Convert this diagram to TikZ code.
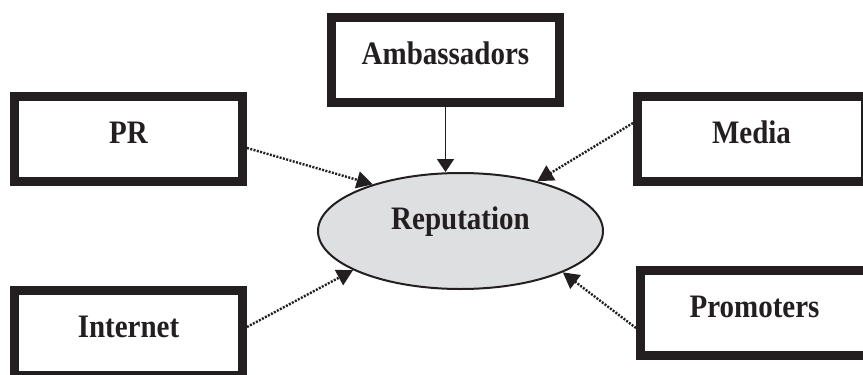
\documentclass[tikz,border=0pt]{standalone}
\usepackage{fontspec}
\setmainfont{Liberation Serif}
\usetikzlibrary{shapes.geometric,arrows.meta}
\definecolor{ink}{RGB}{35,31,32}
\definecolor{repfill}{RGB}{222,223,225}
\newcommand\tallbf[1]{\scalebox{1.0}[1.13]{#1}}
\begin{document}
\begin{tikzpicture}[x=1pt,y=-1pt,
  box/.style={draw=ink,line width=9pt,minimum width=228pt,minimum height=85pt,
    inner sep=0pt,text height=22pt,text depth=13pt,
    font=\bfseries\fontsize{29}{34}\selectfont,text=ink},
  dotarrow/.style={draw=ink,line width=2.4pt,dash pattern=on 2pt off 1.4pt,
    -{Triangle[length=16pt,width=17pt]}},
  solidarrow/.style={draw=ink,line width=1.6pt,-{Triangle[length=13pt,width=17pt]}},
  lbl/.style={font=\bfseries\fontsize{29}{34}\selectfont,text=ink,inner sep=0pt}]
\useasboundingbox (0,0) rectangle (863,375);
\clip (0,0) rectangle (863,375);
\node[box] (pr) at (128.5,139) {\tallbf{PR}};
\node[box] (amb) at (445.5,60) {\tallbf{Ambassadors}};
\node[box] (media) at (751.5,139) {\tallbf{Media}};
\node[box] (internet) at (128.5,332.5) {\tallbf{Internet}};
\node[box] (prom) at (754.5,312.5) {\tallbf{Promoters}};
\node[ellipse,draw=ink,line width=2pt,fill=repfill,minimum width=285pt,
  minimum height=116pt,inner sep=0pt] (rep) at (460.5,231) {};
\node[lbl,anchor=base] (reptxt) at (460.5,229) {\tallbf{Reputation}};
\draw[solidarrow] (amb.south) -- (amb.south |- rep.north);
\draw[dotarrow] ([yshift=-9pt]pr.east) -- (rep.152);
\draw[dotarrow] ([yshift=16pt]media.west) -- (rep.33);
\draw[dotarrow] ([yshift=5.5pt]internet.east) -- (rep.200);
\draw[dotarrow] ([yshift=-15.5pt]prom.west) -- (rep.338);
\end{tikzpicture}
\end{document}
